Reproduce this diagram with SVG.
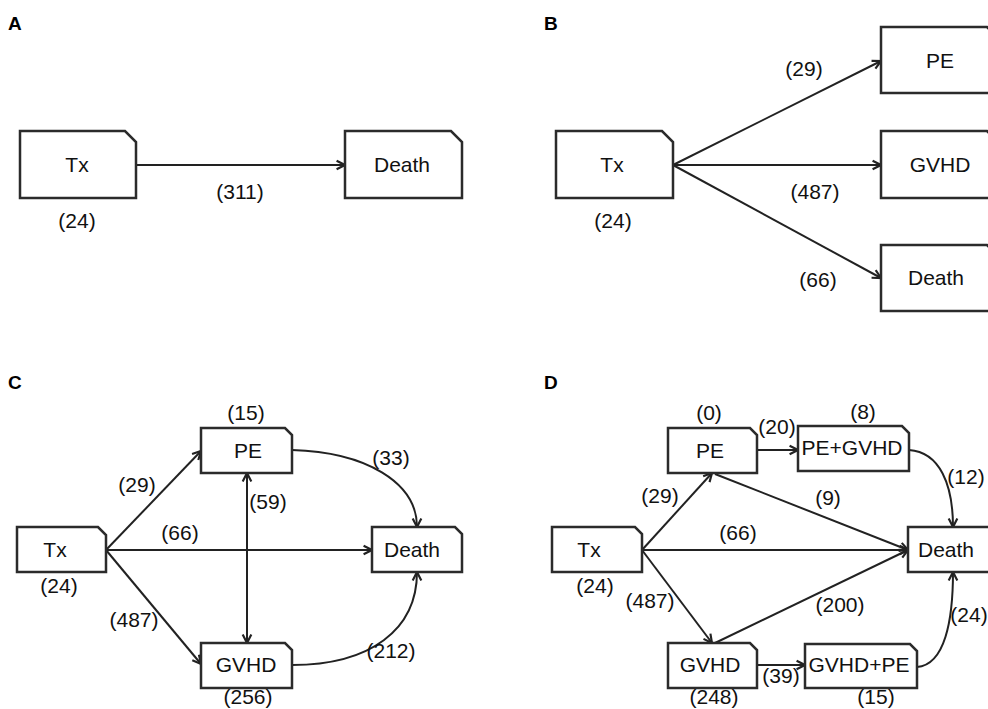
<svg xmlns="http://www.w3.org/2000/svg" width="988" height="709" viewBox="0 0 988 709">
<style>
.box{fill:#fff;stroke:#2b2b2b;stroke-width:2.5}
.lbl{font-family:"Liberation Sans",Arial,sans-serif;font-size:21px;fill:#111;text-anchor:middle}
.pan{font-family:"Liberation Sans",Arial,sans-serif;font-size:19px;font-weight:bold;fill:#000}
.edge{fill:none;stroke:#222;stroke-width:2;marker-end:url(#ah)}
.both{marker-start:url(#ah)}
</style>
<defs>
<marker id="ah" markerUnits="userSpaceOnUse" markerWidth="12" markerHeight="12" viewBox="0 0 10 10" refX="8.5" refY="5" orient="auto-start-reverse">
<path d="M1.5,1.4 L8.5,5 L1.5,8.6" fill="none" stroke="#222" stroke-width="1.8"/>
</marker>
</defs>
<rect width="988" height="709" fill="#fff"/>

<text class="pan" x="8" y="30">A</text>
<text class="pan" x="544" y="30">B</text>
<text class="pan" x="8" y="389">C</text>
<text class="pan" x="544" y="389">D</text>

<g id="connectors">
<!-- A -->
<path class="edge" d="M136,165 H345"/>
<!-- B -->
<path class="edge" d="M673,165 L881,61"/>
<path class="edge" d="M673,165 H881"/>
<path class="edge" d="M673,165 L881,278"/>
<!-- C -->
<path class="edge" d="M106,550 L201,451"/>
<path class="edge" d="M106,550 H372"/>
<path class="edge" d="M106,550 L201,664"/>
<path class="edge both" d="M247,473 V643"/>
<path class="edge" d="M292,450 C365,452 417,482 417,527"/>
<path class="edge" d="M292,665 C370,665 417,630 417,572"/>
<!-- D -->
<path class="edge" d="M642,550 L712,473"/>
<path class="edge" d="M642,550 H908"/>
<path class="edge" d="M642,550 L712,643"/>
<path class="edge" d="M715,474 L908,550"/>
<path class="edge" d="M715,643 L908,550"/>
<path class="edge" d="M757,450 H798"/>
<path class="edge" d="M757,665 H805"/>
<path class="edge" d="M909,450 C940,452 953,485 953,527"/>
<path class="edge" d="M917,667 C945,665 953,620 953,572"/>
</g>

<g id="edge-labels" class="lbl">
<text x="240" y="199">(311)</text>
<text x="804" y="76">(29)</text>
<text x="815" y="199">(487)</text>
<text x="818" y="287">(66)</text>
<text x="391" y="465">(33)</text>
<text x="137" y="492">(29)</text>
<text x="268" y="509">(59)</text>
<text x="180" y="540">(66)</text>
<text x="134" y="627">(487)</text>
<text x="391" y="658">(212)</text>
<text x="777" y="434">(20)</text>
<text x="966" y="484">(12)</text>
<text x="660" y="503">(29)</text>
<text x="828" y="505">(9)</text>
<text x="738" y="540">(66)</text>
<text x="650" y="608">(487)</text>
<text x="840" y="612">(200)</text>
<text x="969" y="622">(24)</text>
<text x="781" y="683">(39)</text>
</g>

<!-- Panel A -->
<g id="A-Tx">
<path class="box" d="M20,131 H125 L136,142 V198 H20 Z"/>
<text class="lbl" x="77" y="172">Tx</text>
<text class="lbl" x="77" y="228">(24)</text>
</g>
<g id="A-Death">
<path class="box" d="M345,131 H451 L462,142 V198 H345 Z"/>
<text class="lbl" x="402" y="172">Death</text>
</g>

<!-- Panel B -->
<g id="B-Tx">
<path class="box" d="M556,131 H662 L673,142 V198 H556 Z"/>
<text class="lbl" x="612" y="172">Tx</text>
<text class="lbl" x="613" y="228">(24)</text>
</g>
<g id="B-PE">
<path class="box" d="M881,27 H987 L998,38 V93 H881 Z"/>
<text class="lbl" x="940" y="68">PE</text>
</g>
<g id="B-GVHD">
<path class="box" d="M881,131 H987 L998,142 V198 H881 Z"/>
<text class="lbl" x="940" y="172">GVHD</text>
</g>
<g id="B-Death">
<path class="box" d="M881,245 H987 L998,256 V311 H881 Z"/>
<text class="lbl" x="936" y="285">Death</text>
</g>

<!-- Panel C -->
<g id="C-Tx">
<path class="box" d="M17,527 H98 L106,535 V572 H17 Z"/>
<text class="lbl" x="55" y="557">Tx</text>
<text class="lbl" x="59" y="593">(24)</text>
</g>
<g id="C-PE">
<path class="box" d="M201,428 H285 L292,435 V473 H201 Z"/>
<text class="lbl" x="248" y="458">PE</text>
<text class="lbl" x="246" y="420">(15)</text>
</g>
<g id="C-Death">
<path class="box" d="M372,527 H455 L462,534 V572 H372 Z"/>
<text class="lbl" x="412" y="557">Death</text>
</g>
<g id="C-GVHD">
<path class="box" d="M201,643 H285 L292,650 V688 H201 Z"/>
<text class="lbl" x="246" y="672">GVHD</text>
<text class="lbl" x="248" y="704">(256)</text>
</g>

<!-- Panel D -->
<g id="D-Tx">
<path class="box" d="M552,527 H635 L642,534 V572 H552 Z"/>
<text class="lbl" x="589" y="557">Tx</text>
<text class="lbl" x="595" y="593">(24)</text>
</g>
<g id="D-PE">
<path class="box" d="M668,428 H750 L757,435 V473 H668 Z"/>
<text class="lbl" x="710" y="458">PE</text>
<text class="lbl" x="709" y="420">(0)</text>
</g>
<g id="D-PEGVHD">
<path class="box" d="M798,426 H902 L909,433 V471 H798 Z"/>
<text class="lbl" x="852" y="455">PE+GVHD</text>
<text class="lbl" x="863" y="419">(8)</text>
</g>
<g id="D-Death">
<path class="box" d="M908,527 H991 L998,534 V572 H908 Z"/>
<text class="lbl" x="946" y="557">Death</text>
</g>
<g id="D-GVHD">
<path class="box" d="M668,643 H750 L757,650 V688 H668 Z"/>
<text class="lbl" x="710" y="672">GVHD</text>
<text class="lbl" x="714" y="704">(248)</text>
</g>
<g id="D-GVHDPE">
<path class="box" d="M805,644 H910 L917,651 V688 H805 Z"/>
<text class="lbl" x="859" y="672">GVHD+PE</text>
<text class="lbl" x="876" y="704">(15)</text>
</g>
</svg>
